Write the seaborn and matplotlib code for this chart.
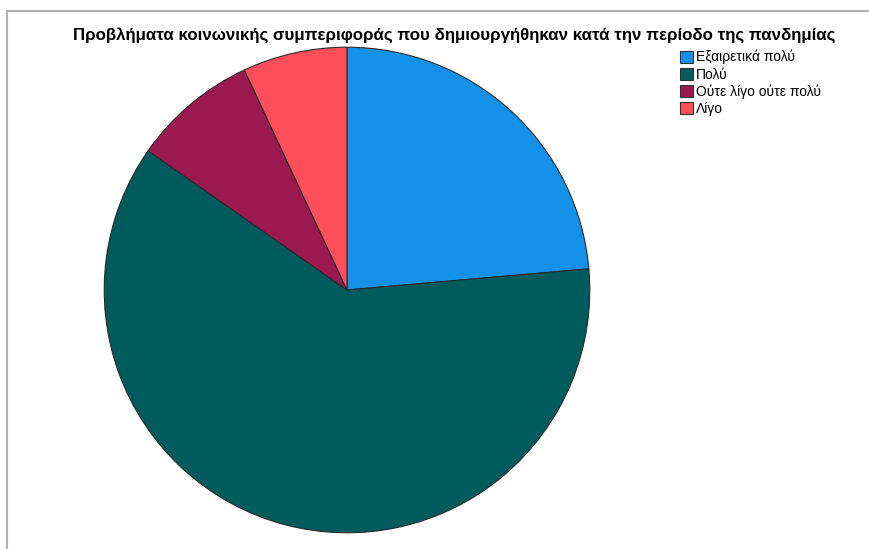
import numpy as np
import pandas as pd
import seaborn as sns
import matplotlib.pyplot as plt
from matplotlib.patches import Patch
from matplotlib.lines import Line2D

# veri
categories = ["Εξαιρετικά πολύ", "Πολύ", "Ούτε λίγο ούτε πολύ", "Λίγο"]
counts = [34, 88, 12, 10]
colors = ["#1391E8", "#005C5C", "#9B1850", "#FF4F5A"]

sns.set_style("white")
plt.rcParams["font.family"] = ["Liberation Sans", "DejaVu Sans"]
plt.rcParams["text.color"] = "black"

df = pd.DataFrame({"cat": categories, "n": counts})

W, H = 869, 549
fig = plt.figure(figsize=(W / 100, H / 100), dpi=100)

# pasta grafiği
cx, cy, r = 347, 290, 244
ax = fig.add_axes([(cx - r) / W, (H - cy - r) / H, 2 * r / W, 2 * r / H])
pal = sns.color_palette(colors)
ax.pie(df["n"], colors=pal, startangle=90, counterclock=False, radius=1,
       wedgeprops=dict(edgecolor="#2a2a2a", linewidth=0.8))
ax.set_xlim(-1.005, 1.005)
ax.set_ylim(-1.005, 1.005)
ax.set_aspect("equal")
ax.axis("off")

fig.text(454 / W, 1 - 35 / H, "Προβλήματα κοινωνικής συμπεριφοράς που δημιουργήθηκαν κατά την περίοδο της πανδημίας",
         ha="center", va="center", fontsize=12.2, fontweight="bold", color="black")

# çerçeve
fig.add_artist(Line2D([6.5 / W, 6.5 / W], [0, 1 - 10.5 / H], color="#b0b0b0", lw=1.5))
fig.add_artist(Line2D([6.5 / W, 1], [1 - 10.5 / H, 1 - 10.5 / H], color="#b0b0b0", lw=1.5))

handles = [Patch(facecolor=c, edgecolor="#333333", linewidth=0.8) for c in colors]
fig.legend(handles, categories, loc="upper left", bbox_to_anchor=(680 / W, 1 - 50 / H),
           frameon=False, fontsize=10, handlelength=0.95, handleheight=0.95,
           handletextpad=0.2, labelspacing=0.22, borderpad=0, borderaxespad=0,
           labelcolor="black")

fig.savefig("out.png", dpi=100)
